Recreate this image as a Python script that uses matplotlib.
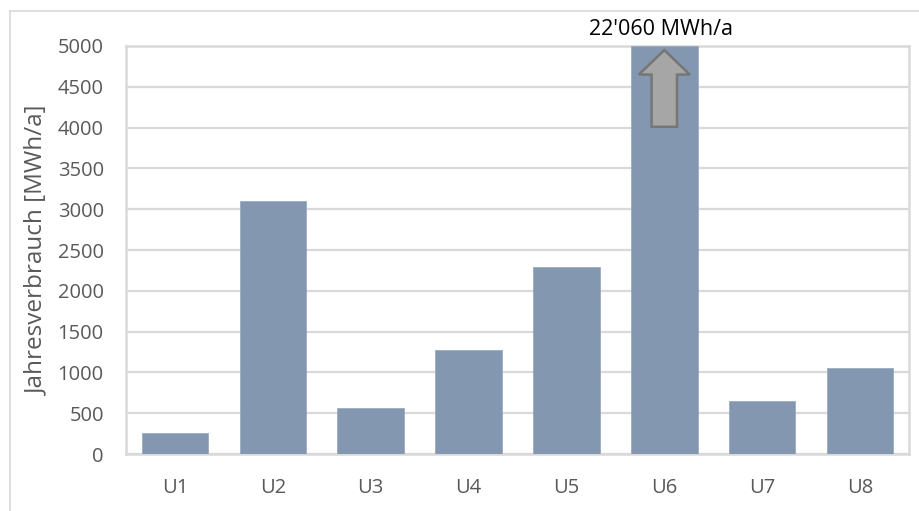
import matplotlib
matplotlib.use("Agg")
import matplotlib.pyplot as plt
from matplotlib.patches import Polygon
from matplotlib.lines import Line2D

categories = ["U1", "U2", "U3", "U4", "U5", "U6", "U7", "U8"]
consumption = [255, 3100, 560, 1270, 2290, 22060, 650, 1050]
y_ticks = [0, 500, 1000, 1500, 2000, 2500, 3000, 3500, 4000, 4500, 5000]
y_max = 5000
off_scale_label = "22'060 MWh/a"

plt.rcParams["font.family"] = ["Open Sans", "DejaVu Sans"]

W, H = 920, 511
fig = plt.figure(figsize=(W / 100, H / 100), dpi=100)
ax = fig.add_axes([126 / W, 1 - 454 / H, (909 - 126) / W, (454 - 46) / H])

grid_col = "#d9d9d9"
text_col = "#595959"
bar_col = "#8497b0"

x = list(range(len(categories)))
ax.bar(x, [min(v, y_max) for v in consumption], width=0.68, color=bar_col,
       edgecolor="#9aabc0", linewidth=0.6, zorder=3)

ax.set_xlim(-0.5, len(categories) - 0.5)
ax.set_ylim(0, y_max)
ax.set_yticks(y_ticks)
ax.set_yticklabels([str(t) for t in y_ticks])
ax.set_xticks(x)
ax.set_xticklabels(categories)
ax.tick_params(axis="both", length=0, labelsize=14.5, colors=text_col)
ax.tick_params(axis="x", pad=17)
ax.tick_params(axis="y", pad=16)
ax.yaxis.grid(True, color=grid_col, linewidth=1.6, zorder=0)
ax.set_axisbelow(True)
for s in ax.spines.values():
    s.set_color(grid_col)
    s.set_linewidth(1.8)

ax.set_ylabel("Jahresverbrauch [MWh/a]", fontsize=17.5, color=text_col, labelpad=6)

# upward arrow marking the off-scale bar
for i, v in enumerate(consumption):
    if v > y_max:
        hw, sw = 0.26, 0.13
        tip, base, bottom = 4950, 4650, 4010
        pts = [(i - sw, bottom), (i + sw, bottom), (i + sw, base), (i + hw, base),
               (i, tip), (i - hw, base), (i - sw, base)]
        ax.add_patch(Polygon(pts, closed=True, facecolor="#a6a6a6",
                             edgecolor="#767676", linewidth=1.8, zorder=4))
        ax.text(i - 0.03, y_max + 70, off_scale_label, ha="center", va="bottom",
                fontsize=15.5, color="#000000", clip_on=False)

# outer chart frame (left and top edges)
fig.add_artist(Line2D([10 / W, 10 / W], [0, 1 - 11 / H], color=grid_col,
                      linewidth=1.2, transform=fig.transFigure))
fig.add_artist(Line2D([10 / W, 1], [1 - 11 / H, 1 - 11 / H], color=grid_col,
                      linewidth=1.2, transform=fig.transFigure))

fig.savefig("out.png", dpi=100, facecolor="white")
